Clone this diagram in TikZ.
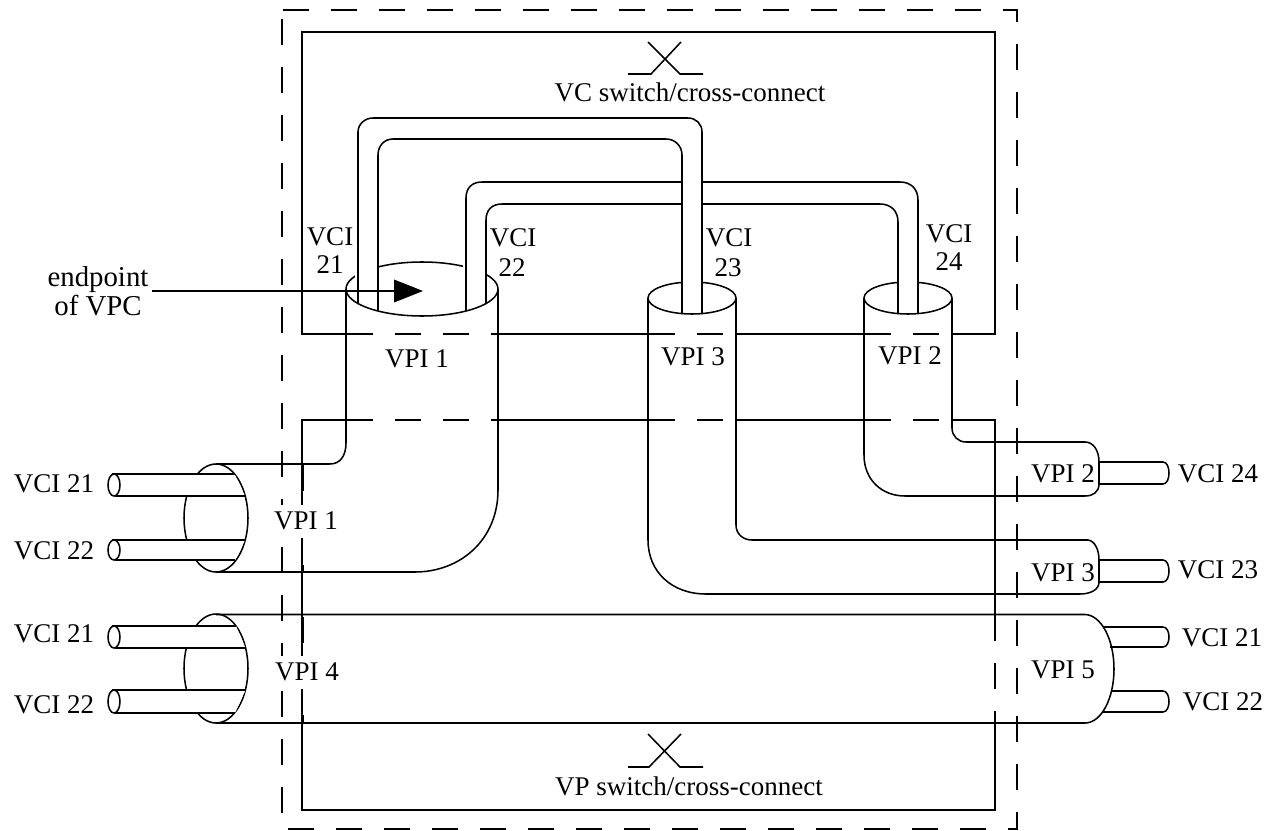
\documentclass[tikz,border=0pt]{standalone}
\usepackage{fontspec}
\setmainfont{Liberation Serif}
\usetikzlibrary{arrows.meta}
\tikzset{
  ln/.style={line width=1.15pt,line join=miter,line cap=butt},
  dsh/.style={ln,dash pattern=on 19.5pt off 16.5pt},
  wipe/.style={fill=white,draw=none},
  lbl/.style={inner sep=0pt,font=\fontsize{20.25pt}{21pt}\selectfont,text height=13.4pt,text depth=0pt},
  lblw/.style={lbl,fill=white,inner xsep=1pt,minimum height=24.75pt},
}
% left tube: y-top, y-bottom, x-end at top, x-end at bottom
\newcommand{\lefttube}[4]{%
  \fill[wipe] (114,#1) -- (#3,#1) -- (#4,#2) -- (114,#2) -- cycle;
  \draw[ln] (#3,#1) -- (112,#1) (#4,#2) -- (115,#2);
  \draw[ln] (114,{(#1+#2)/2}) ellipse [x radius=6, y radius={(#2-#1)/2}];
}
% right tube: x-start top, x-start bottom, y-top, y-bottom
\newcommand{\righttube}[4]{%
  \draw[ln] (#1,#3) -- (1163,#3) .. controls (1171,#3) and (1171,#4) .. (1163,#4) -- (#2,#4);
}
\begin{document}
\begin{tikzpicture}[x=0.75pt,y=-0.75pt]
\useasboundingbox (0,0) rectangle (1270,831);
% outer dashed frame
\draw[dsh] (283,10) -- (1017,10) -- (1017,829) -- (282,829) -- (282,10);
% VC box
\draw[ln] (346,334) -- (302,334) -- (302,32) -- (995,32) -- (995,334) -- (951,334);
\draw[ln] (498,334) -- (648,334) (736,334) -- (864,334);
\draw[dsh] (347,334) -- (498,334);
\draw[dsh] (649,334) -- (736,334);
\draw[dsh] (865,334) -- (952,334);
% VP box
\draw[ln] (346,420) -- (302,420) -- (302,810) -- (995,810) -- (995,714);
\draw[ln] (995,615) -- (995,420) -- (951,420);
\draw[ln] (498,420) -- (648,420) (736,420) -- (864,420);
\draw[dsh] (347,420) -- (498,420);
\draw[dsh] (649,420) -- (736,420);
\draw[dsh] (865,420) -- (952,420);
\draw[dsh] (995,615) -- (995,714);
% thick bits on the left edge
\draw[line width=1.9pt] (303,465) -- (303,491) (303,565) -- (303,572) (303,617) -- (303,643) (303,715) -- (303,723);
% crosses
\draw[ln] (628,74) -- (651,74) -- (681,42) (648,42) -- (680,74) -- (703,74);
\draw[ln] (628,767) -- (649,767) -- (681,734) (648,734) -- (680,767) -- (703,767);
% pipe openings
\draw[ln] (422,289) ellipse [x radius=76, y radius=27];
\draw[ln] (692,298) ellipse [x radius=44, y radius=16];
\draw[ln] (908,298) ellipse [x radius=44, y radius=16];
\fill[wipe] (355,255) rectangle (378,290);
\fill[wipe] (463,255) rectangle (487,290);
\fill[wipe] (682,275) rectangle (702,300);
\fill[wipe] (898,275) rectangle (918,300);
% VCI 22 -> VCI 24 tube
\draw[ln] (466,311) -- (466,198) .. controls (466,188) and (472,182) .. (482,182) -- (900,182)
  .. controls (911,182) and (918,189) .. (918,200) -- (918,313);
\draw[ln] (486,304) -- (486,220) .. controls (486,210) and (492,204) .. (502,204) -- (880,204)
  .. controls (891,204) and (898,211) .. (898,222) -- (898,314);
% VCI 21 -> VCI 23 tube
\fill[wipe] (683,170) rectangle (701,215);
\draw[ln] (358,304) -- (358,132) .. controls (358,124) and (365,118) .. (373,118) -- (688,118)
  .. controls (696,118) and (702,124) .. (702,132) -- (702,314);
\draw[ln] (378,311) -- (378,155) .. controls (378,146) and (384,139) .. (393,139) -- (666,139)
  .. controls (675,139) and (682,146) .. (682,155) -- (682,314);
% VPI 1 pipe
\draw[ln] (346,289) -- (346,443) .. controls (346,456) and (340,464) .. (330,464) -- (216,464);
\draw[ln] (498,289) -- (498,490) .. controls (498,540) and (460,572) .. (415,572) -- (216,572);
\draw[ln] (216,518) ellipse [x radius=32, y radius=54];
\lefttube{474}{496}{234.5}{245}
\lefttube{540}{560}{245}{235}
% VPI 4 / VPI 5 pipe
\draw[ln] (216,614.5) -- (1085,614.5) .. controls (1101,615) and (1114,639) .. (1114,669)
  .. controls (1114,699) and (1101,723) .. (1085,723) -- (216,723);
\draw[ln] (216,668.5) ellipse [x radius=32, y radius=54.5];
\lefttube{626}{648}{236}{245.5}
\lefttube{690}{713}{245.5}{235}
\righttube{1103}{1110}{627}{647}
\righttube{1112}{1103}{691}{712}
% VPI 3 pipe
\draw[ln] (648,298) -- (648,540) .. controls (648,572) and (672,594) .. (706,594) -- (1080,594)
  .. controls (1090,594) and (1099,590) .. (1099,582) -- (1099,560)
  .. controls (1099,550) and (1095,541) .. (1088,540) -- (752,540)
  .. controls (743,540) and (736,534) .. (736,525) -- (736,298);
\righttube{1099}{1099}{560}{582}
% VPI 2 pipe
\draw[ln] (864,298) -- (864,455) .. controls (864,480) and (882,496) .. (905,496) -- (1085,496)
  .. controls (1093,496) and (1099,492) .. (1099,484) -- (1099,462)
  .. controls (1099,450) and (1093,442) .. (1085,442) -- (966,442)
  .. controls (958,442) and (952,436) .. (952,428) -- (952,298);
\righttube{1099}{1099}{462}{484}
% labels
\node[lbl] (vc) at (690,93) {VC switch/cross-connect};
\node[lbl] (vp) at (689,787) {VP switch/cross-connect};
\node[lbl,align=center,font=\fontsize{21.6pt}{22pt}\selectfont,text height=,text depth=] (ep) at (98,291) {endpoint\\of VPC};
\coordinate (tip) at (423,291);
\draw[ln,-{Triangle[length=21.75pt,width=17pt]}] (ep.east) ++(3,0) -- (tip);
\node[lbl] (c21a) at (330,237) {VCI};
\node[lbl] (c21b) at (330,265) {21};
\node[lbl] (c22a) at (513,238) {VCI};
\node[lbl] (c22b) at (512,268) {22};
\node[lbl] (c23a) at (729,238) {VCI};
\node[lbl] (c23b) at (728,268) {23};
\node[lbl] (c24a) at (949,234) {VCI};
\node[lbl] (c24b) at (949,262) {24};
\node[lbl] (p1u) at (417,359) {VPI 1};
\node[lbl] (p3u) at (693,357) {VPI 3};
\node[lbl] (p2u) at (910,356) {VPI 2};
\node[lblw] (p1l) at (306,521) {VPI 1};
\node[lblw] (p4l) at (307,672) {VPI 4};
\node[lbl] (l21a) at (54,484) {VCI 21};
\node[lbl] (l22a) at (54,551) {VCI 22};
\node[lbl] (l21b) at (54,634) {VCI 21};
\node[lbl] (l22b) at (54,705) {VCI 22};
\node[lbl] (r24) at (1218,474) {VCI 24};
\node[lbl] (r23) at (1218,570) {VCI 23};
\node[lbl] (r21) at (1222,638) {VCI 21};
\node[lbl] (r22) at (1223,702) {VCI 22};
\node[lbl] (p2r) at (1063,474) {VPI 2};
\node[lbl] (p3r) at (1063,573) {VPI 3};
\node[lbl] (p5r) at (1063,670) {VPI 5};
\end{tikzpicture}
\end{document}
